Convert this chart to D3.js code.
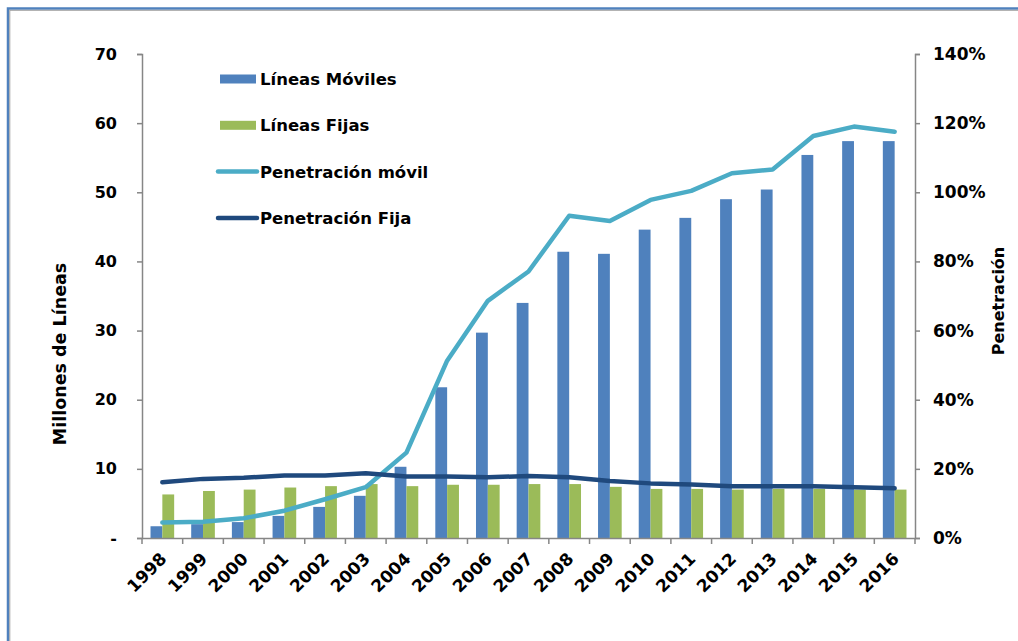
<!DOCTYPE html>
<html>
<head>
<meta charset="utf-8">
<script src="https://cdn.jsdelivr.net/npm/d3@7"></script>
<style>
  body { margin: 0; background: #fff; }
  text { font-family: "DejaVu Sans", Verdana, sans-serif; font-weight: bold; fill: #000; }
</style>
</head>
<body>
<div id="chart"></div>
<script>
// data
var years = ["1998","1999","2000","2001","2002","2003","2004","2005","2006","2007",
             "2008","2009","2010","2011","2012","2013","2014","2015","2016"];
var lineasMoviles = [1.7, 2.0, 2.3, 3.2, 4.5, 6.1, 10.3, 21.8, 29.7, 34.0,
                     41.4, 41.1, 44.6, 46.3, 49.0, 50.4, 55.4, 57.4, 57.4];
var lineasFijas = [6.3, 6.8, 7.0, 7.3, 7.5, 7.8, 7.5, 7.7, 7.7, 7.8,
                   7.8, 7.4, 7.1, 7.1, 7.0, 7.1, 7.1, 7.0, 7.0];
var penetracionMovil = [0.045, 0.047, 0.057, 0.079, 0.112, 0.147, 0.247, 0.513, 0.686, 0.771,
                        0.932, 0.917, 0.978, 1.004, 1.055, 1.066, 1.163, 1.190, 1.175];
var penetracionFija = [0.161, 0.171, 0.174, 0.181, 0.181, 0.187, 0.178, 0.178, 0.176, 0.179,
                       0.176, 0.165, 0.158, 0.155, 0.150, 0.150, 0.150, 0.147, 0.144];
var leftTicks = [0, 10, 20, 30, 40, 50, 60, 70];
var rightTicks = [0, 0.2, 0.4, 0.6, 0.8, 1.0, 1.2, 1.4];

var svgWidth = 1018;
var svgHeight = 641;
var margin = { top: 54, right: 103, bottom: 103, left: 142 };
var width = svgWidth - margin.left - margin.right;
var height = svgHeight - margin.top - margin.bottom;

var colors = { moviles: "#4f81bd", fijas: "#9bbb59", penMovil: "#4bacc6", penFija: "#1f497d" };

var svg = d3.select("#chart")
  .append("svg")
  .attr("width", svgWidth)
  .attr("height", svgHeight);

// frame of the chart area
svg.append("rect")
  .attr("x", 8).attr("y", 8.5)
  .attr("width", 1040).attr("height", 660)
  .attr("fill", "none")
  .attr("stroke", "#4f81bd")
  .attr("stroke-width", 2.5);
svg.append("rect")
  .attr("x", 9.8).attr("y", 10.3)
  .attr("width", 1040).attr("height", 660)
  .attr("fill", "none")
  .attr("stroke", "#a0a0a0")
  .attr("stroke-width", 1);

var chartGroup = svg.append("g")
  .attr("transform", `translate(${margin.left}, ${margin.top})`);

// scales
var xScale = d3.scaleBand().domain(years).range([0, width]);
var xSub = d3.scaleBand().domain(["moviles", "fijas"])
  .range([0, xScale.bandwidth()])
  .paddingInner(0)
  .paddingOuter(0.72);
var yLeft = d3.scaleLinear().domain([0, 70]).range([height, 0]);
var yRight = d3.scaleLinear().domain([0, 1.4]).range([height, 0]);

// bars
var barData = years.map(function(y, i) {
  return { year: y, moviles: lineasMoviles[i], fijas: lineasFijas[i] };
});

var groups = chartGroup.selectAll(".grp")
  .data(barData)
  .enter()
  .append("g")
  .attr("transform", d => `translate(${xScale(d.year)},0)`);

groups.selectAll("rect")
  .data(d => ["moviles", "fijas"].map(k => ({ key: k, value: d[k] })))
  .enter()
  .append("rect")
  .attr("x", d => xSub(d.key))
  .attr("y", d => yLeft(d.value))
  .attr("width", xSub.bandwidth())
  .attr("height", d => height - yLeft(d.value))
  .attr("fill", d => colors[d.key]);

// lines
var line = d3.line()
  .x((d, i) => xScale(years[i]) + xScale.bandwidth() / 2)
  .y(d => yRight(d));

chartGroup.append("path")
  .datum(penetracionMovil)
  .attr("d", line)
  .attr("fill", "none")
  .attr("stroke", colors.penMovil)
  .attr("stroke-width", 4.5)
  .attr("stroke-linejoin", "round")
  .attr("stroke-linecap", "round");

chartGroup.append("path")
  .datum(penetracionFija)
  .attr("d", line)
  .attr("fill", "none")
  .attr("stroke", colors.penFija)
  .attr("stroke-width", 4.5)
  .attr("stroke-linejoin", "round")
  .attr("stroke-linecap", "round");

// axes
var leftAxis = d3.axisLeft(yLeft)
  .tickValues(leftTicks)
  .tickSize(5)
  .tickPadding(20)
  .tickFormat(d => d === 0 ? "-" : d);
var rightAxis = d3.axisRight(yRight)
  .tickValues(rightTicks)
  .tickSize(5)
  .tickPadding(13)
  .tickFormat(d3.format(".0%"));
var bottomAxis = d3.axisBottom(xScale).tickSize(0).tickPadding(0);

var gl = chartGroup.append("g").call(leftAxis);
var gr = chartGroup.append("g").attr("transform", `translate(${width},0)`).call(rightAxis);
var gb = chartGroup.append("g").attr("transform", `translate(0,${height})`).call(bottomAxis);

[gl, gr, gb].forEach(function(g) {
  g.select(".domain").attr("stroke", "#868686").attr("stroke-width", 1.5);
  g.selectAll(".tick line").attr("stroke", "#868686").attr("stroke-width", 1.5);
  g.selectAll("text").attr("font-size", 16).attr("fill", "#000")
    .attr("font-family", "DejaVu Sans, Verdana, sans-serif").attr("font-weight", "bold");
});
gr.selectAll("text").attr("font-size", 17);

// category boundary ticks on the x axis
gb.selectAll(".bound")
  .data(years.concat(["end"]))
  .enter()
  .append("line")
  .attr("x1", (d, i) => i * xScale.step())
  .attr("x2", (d, i) => i * xScale.step())
  .attr("y1", 0)
  .attr("y2", 6)
  .attr("stroke", "#868686")
  .attr("stroke-width", 1.5);

gb.selectAll(".tick text")
  .attr("font-size", 17)
  .attr("text-anchor", "end")
  .attr("dy", 0)
  .attr("transform", `translate(${xScale.bandwidth() / 2 - 15},22) rotate(-45)`);

// axis labels
chartGroup.append("text")
  .attr("transform", "rotate(-90)")
  .attr("x", -(height / 2) - 58)
  .attr("y", -margin.left + 66)
  .attr("text-anchor", "middle")
  .attr("font-size", 17.5)
  .text("Millones de Líneas");

chartGroup.append("text")
  .attr("transform", "rotate(-90)")
  .attr("x", -(height / 2) - 5)
  .attr("y", width + 89)
  .attr("text-anchor", "middle")
  .attr("font-size", 16)
  .text("Penetración");

// legend
var legendItems = [
  { label: "Líneas Móviles", color: colors.moviles, type: "bar" },
  { label: "Líneas Fijas", color: colors.fijas, type: "bar" },
  { label: "Penetración móvil", color: colors.penMovil, type: "line" },
  { label: "Penetración Fija", color: colors.penFija, type: "line" }
];

var legend = svg.append("g")
  .attr("transform", "translate(218, 79)");

var items = legend.selectAll("g")
  .data(legendItems)
  .enter()
  .append("g")
  .attr("transform", (d, i) => `translate(0, ${i * 46.3})`);

items.filter(d => d.type === "bar")
  .append("rect")
  .attr("x", 2).attr("y", -4.5)
  .attr("width", 36).attr("height", 9)
  .attr("fill", d => d.color);

items.filter(d => d.type === "line")
  .append("line")
  .attr("x1", 0).attr("x2", 39)
  .attr("y1", 0).attr("y2", 0)
  .attr("stroke", d => d.color)
  .attr("stroke-width", 4.5)
  .attr("stroke-linecap", "round");

items.append("text")
  .attr("x", 42)
  .attr("y", 6)
  .attr("font-size", 16.5)
  .text(d => d.label);
</script>
</body>
</html>
